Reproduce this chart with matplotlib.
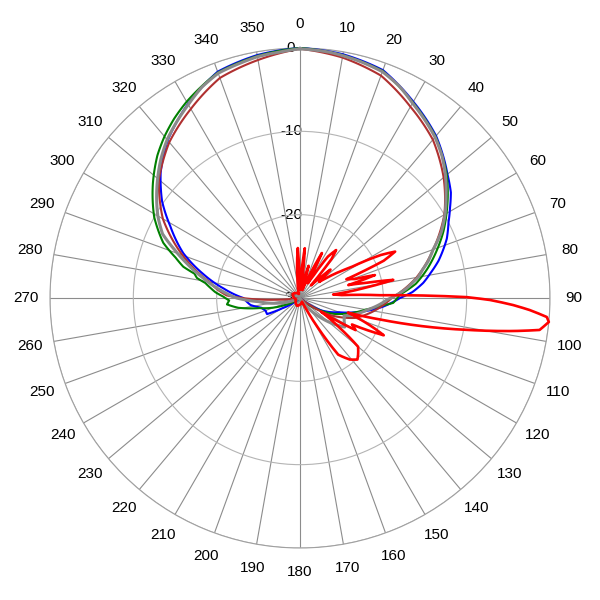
import numpy as np
import matplotlib.pyplot as plt

plt.rcParams['font.family'] = ['Liberation Sans', 'DejaVu Sans']

# angulos dos rotulos (graus) e niveis radiais (dB)
theta_ticks = list(range(0, 360, 10))
theta_labels = [str(a) for a in theta_ticks]
r_ticks = [-30, -20, -10, 0]
r_labels = ['-30', '-20', '-10', '0']

# curvas medidas (angulo em graus, nivel em dB)
blue_ang = [0, 10, 20, 30, 40, 50, 55, 59, 63, 68, 75, 79, 83, 87, 90, 96, 104, 110, 120, 130,
            230, 240, 244, 250, 256, 262, 270, 277, 284, 291, 299, 305, 312, 320, 330, 340, 350, 360]
blue_db = [0, -0.3, -0.9, -2.8, -4.6, -6.9, -7.9, -9.0, -10.0, -11.0, -12.8, -14.0, -15.1, -16.5, -18.0, -20.0, -23.0, -25.0, -27.0, -30,
           -30, -27.5, -25.6, -25.6, -25.2, -24.0, -23.2, -20.8, -18.0, -15.0, -12.2, -9.8, -7.5, -5.3, -3.1, -1.1, -0.4, 0]

green_ang = [0, 10, 20, 30, 40, 50, 60, 65, 70, 77, 83, 88, 93, 96, 100, 108, 115, 125, 135,
             235, 245, 256, 261, 265, 268, 271, 274, 276, 279, 281, 283, 285, 288, 292, 299, 308, 315, 320, 325, 330, 340, 350, 360]
green_db = [0, -0.4, -1.0, -2.9, -4.7, -7.0, -9.7, -11.0, -12.4, -14.3, -16.0, -18.0, -18.8, -20.5, -22.0, -24.0, -25.5, -28.0, -30,
            -30, -28.0, -25.0, -22.5, -21.2, -21.5, -20.8, -19.8, -19.3, -18.5, -17.4, -17.0, -15.5, -14.3, -12.3, -10.0, -7.6, -5.8, -4.7, -3.7, -2.8, -1.2, -0.5, 0]

brown_ang = [0, 10, 20, 30, 40, 50, 60, 70, 80, 90, 100, 110, 120, 130,
             262, 266, 269, 272, 276, 280, 290, 300, 310, 320, 330, 340, 350, 360]
brown_db = [-0.1, -0.7, -1.6, -3.5, -5.2, -7.5, -10.0, -13.0, -15.8, -19.0, -21.0, -23.0, -26.0, -30,
            -30, -27.0, -24.0, -21.2, -20.0, -19.0, -15.0, -11.0, -7.9, -5.6, -3.8, -1.9, -1.0, -0.1]

gray_ang = [0, 7, 14, 20, 25, 30, 35, 40, 45, 50, 55, 60, 65, 70, 74, 77, 80, 82, 85, 88, 91, 95, 100, 106, 112, 118, 123, 128, 135, 145, 150,
            245, 255, 265, 270, 274, 277, 282, 287, 291, 295, 300, 305, 310, 315, 320, 325, 330, 335, 340, 346, 350, 355, 360]
gray_db = [-0.1, -0.3, -0.7, -1.1, -1.9, -3.0, -3.9, -4.8, -5.9, -7.2, -8.6, -9.9, -11.3, -13.0, -14.0, -14.9, -15.6, -16.3, -17.2, -18.3, -19.5, -20.5, -21.8, -23.0, -24.3, -24.0, -23.6, -25.0, -27.0, -29.5, -30,
           -30, -27.8, -25.0, -22.4, -21.0, -19.9, -18.0, -15.8, -13.9, -11.8, -10.3, -9.0, -7.7, -6.4, -5.2, -4.2, -3.2, -2.1, -1.3, -0.9, -0.6, -0.4, -0.1]

red_ang = [0, 2, 4, 5.5, 7, 9, 12, 15, 17, 21, 24, 26, 28, 31, 34, 37, 39, 41, 44, 47, 50, 53, 57, 59, 62, 64, 66, 68,
           71, 73, 75, 77, 79, 81, 84, 86, 88, 89.7, 90.6, 91.9, 93, 94.4, 95.5, 97.6, 98.8, 100.8, 103, 105, 107, 110, 114, 117, 120,
           123, 127, 130, 134, 137, 141, 146, 149, 152, 200, 250, 300, 345, 352, 355, 357.5, 359, 360]
red_db = [-29, -28, -26, -24, -27, -29, -28, -26, -29, -28, -26, -24, -28, -27, -24, -22.8, -24, -28, -27, -25, -27, -26, -24, -22.7, -19, -17.3, -19, -24,
          -23, -20.6, -24, -22, -18.6, -22, -26, -25, -20.4, -10, -7.2, -4.4, -2.4, -0.3, 0, -1.0, -4.1, -9.6, -15, -20, -24, -22, -19, -23, -22.3,
          -27, -24, -20.9, -20.3, -19.9, -20.5, -21.8, -26, -29.5, -29, -29.5, -29, -29.5, -28, -26, -24, -28, -29]

fig = plt.figure(figsize=(6, 6), dpi=100)
ax = fig.add_axes([50/600, 52/600, 500/600, 500/600], projection='polar')
ax.set_theta_zero_location('N')
ax.set_theta_direction(-1)
ax.set_ylim(-30, 0)

# grade: raios a cada 10 graus e circulos
ax.set_xticks(np.deg2rad(theta_ticks))
ax.set_xticklabels([])
ax.set_yticks(r_ticks)
ax.set_yticklabels([])
ax.xaxis.grid(True, color='#8c8c8c', linewidth=0.8, linestyle='-')
ax.yaxis.grid(True, color='#b4b4b4', linewidth=0.8, linestyle='-')
ax.spines['polar'].set_color('#a0a0a0')
ax.spines['polar'].set_linewidth(0.8)
ax.tick_params(length=0)

for a, lab in zip(theta_ticks, theta_labels):
    ax.text(np.deg2rad(a), 2.9, lab, ha='center', va='center', fontsize=11, clip_on=False)
for r, lab in zip(r_ticks, r_labels):
    ax.annotate(lab, xy=(0, r), xytext=(-9, 0), textcoords='offset pixels',
                ha='center', va='center', fontsize=11, zorder=1, annotation_clip=False)

series = [(blue_ang, blue_db, '#0000ff', 1.5),
          (green_ang, green_db, '#008000', 1.5),
          (brown_ang, brown_db, '#b03030', 1.5),
          (gray_ang, gray_db, '#8a8a8a', 2.2),
          (red_ang, red_db, '#ff0000', 1.9)]
for ang, db, col, lw in series:
    line, = ax.plot(np.deg2rad(ang), db, color=col, linewidth=lw, clip_on=False, zorder=3)
    # segmentos desenhados como curvas no plano polar (nao retas)
    line.get_path()._interpolation_steps = 12

fig.savefig('out.png', dpi=100)
